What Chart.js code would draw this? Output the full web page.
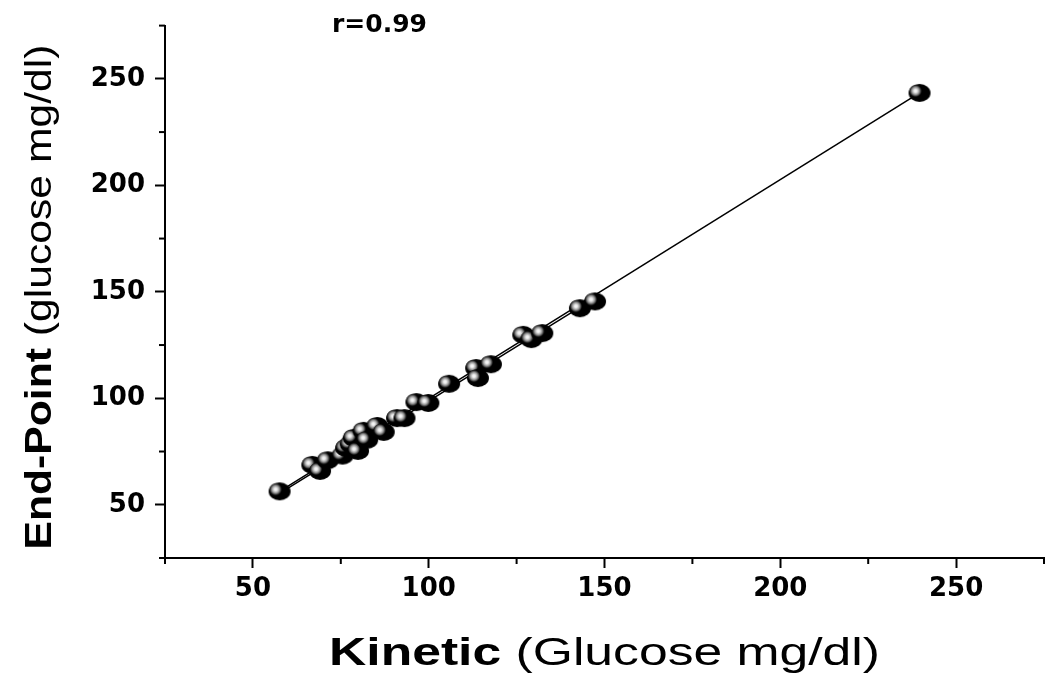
<!DOCTYPE html>
<html lang="en">
<head>
<meta charset="UTF-8">
<title>Kinetic vs End-Point glucose</title>
<script src="https://cdn.jsdelivr.net/npm/chart.js"></script>
<style>
    html, body { margin: 0; padding: 0; background: #fff; overflow: hidden; }
    #wrap { width: 1046px; height: 673px; overflow: hidden; }
</style>
</head>
<body>
<div id="wrap"><canvas id="glucoseChart" width="1056" height="673"></canvas></div>
<script>
    // values (mg/dl)
    const kinetic  = [57.6, 66.9, 69.1, 71.3, 75.5, 76.5, 77.8, 78.7, 79.9, 81.5, 82.5, 85.4, 87.2, 91.0, 93.1, 96.5, 99.9, 105.8, 113.5, 114.0, 117.7, 126.9, 129.2, 132.3, 143.0, 147.3, 239.6];
    const endPoint = [56.3, 68.7, 65.9, 70.9, 73.1, 76.7, 78.5, 81.4, 75.3, 84.7, 80.5, 87.0, 84.2, 90.7, 90.7, 98.2, 97.8, 106.8, 114.2, 109.5, 116.0, 129.8, 127.8, 130.6, 142.3, 145.5, 243.4];

    // fitted lines (two almost coincident ones in the original)
    const fitX  = [57.6, 239.6];
    const fitY  = [56.3, 243.4];
    const fit2X = [60, 147];
    const fit2Y = [57.8, 146.8];

    const labelTicks = [50, 100, 150, 200, 250];
    const xTitle = [['Kinetic', true], [' (Glucose mg/dl)', false]];
    const yTitle = [['End-Point', true], [' (glucose mg/dl)', false]];
    const corrLabel = 'r=0.99';

    const toPoints = (xs, ys) => xs.map((v, i) => ({ x: v, y: ys[i] }));

    // shaded ball marker, a bit wider than tall like the original
    function makeBall() {
        const c = document.createElement('canvas');
        c.width = 24;
        c.height = 20;
        const g = c.getContext('2d');
        g.fillStyle = '#000';
        g.beginPath();
        g.ellipse(12, 10, 11, 9, 0, 0, Math.PI * 2);
        g.fill();
        const grad = g.createRadialGradient(8, 8, 0, 8, 8, 6.5);
        grad.addColorStop(0, '#ffffff');
        grad.addColorStop(0.25, '#e6e6e6');
        grad.addColorStop(0.55, '#9a9a9a');
        grad.addColorStop(0.8, '#3a3a3a');
        grad.addColorStop(1, 'rgba(0,0,0,0)');
        g.fillStyle = grad;
        g.beginPath();
        g.arc(8, 8, 6.5, 0, Math.PI * 2);
        g.fill();
        return c;
    }

    const sans = '"Liberation Sans", Arial, sans-serif';

    // text stretched along its baseline to the given width
    function stretchedText(ctx, parts, size, targetWidth) {
        const fontOf = bold => (bold ? 'bold ' : '') + size + 'px ' + sans;
        let w = 0;
        parts.forEach(p => { ctx.font = fontOf(p[1]); w += ctx.measureText(p[0]).width; });
        ctx.scale(targetWidth / w, 1);
        let cx = -w / 2;
        parts.forEach(p => {
            ctx.font = fontOf(p[1]);
            ctx.fillText(p[0], cx, 0);
            cx += ctx.measureText(p[0]).width;
        });
    }

    const extras = {
        id: 'extras',
        afterDraw(chart) {
            const ctx = chart.ctx;
            const area = chart.chartArea;
            const xs = chart.scales.x, ys = chart.scales.y;
            ctx.save();
            // short minor ticks
            ctx.strokeStyle = '#000';
            ctx.lineWidth = 2;
            xs.ticks.forEach(t => {
                if (labelTicks.includes(t.value)) return;
                const px = xs.getPixelForValue(t.value);
                ctx.beginPath(); ctx.moveTo(px, area.bottom); ctx.lineTo(px, area.bottom + 6); ctx.stroke();
            });
            ys.ticks.forEach(t => {
                if (labelTicks.includes(t.value)) return;
                const py = ys.getPixelForValue(t.value);
                ctx.beginPath(); ctx.moveTo(area.left, py); ctx.lineTo(area.left - 6, py); ctx.stroke();
            });

            ctx.fillStyle = '#000';
            ctx.textAlign = 'left';
            ctx.textBaseline = 'alphabetic';

            ctx.save();
            ctx.translate((area.left + area.right) / 2, 665);
            stretchedText(ctx, xTitle, 39, 551);
            ctx.restore();

            ctx.save();
            ctx.translate(51, 297);
            ctx.rotate(-Math.PI / 2);
            stretchedText(ctx, yTitle, 37, 505);
            ctx.restore();

            ctx.font = 'bold 25px "DejaVu Sans", sans-serif';
            ctx.fillText(corrLabel, 332, 32);
            ctx.restore();
        }
    };

    const tickFont = { family: '"DejaVu Sans", sans-serif', size: 26, weight: 'bold' };
    const majorColor = c => (c.tick && labelTicks.includes(c.tick.value)) ? '#000' : 'rgba(0,0,0,0)';
    const tickLabel = v => labelTicks.includes(v) ? String(v) : '';

    new Chart(document.getElementById('glucoseChart'), {
        type: 'scatter',
        data: {
            datasets: [
                {
                    label: 'samples',
                    data: toPoints(kinetic, endPoint),
                    pointStyle: makeBall(),
                    pointRadius: 11,
                    order: 0
                },
                {
                    label: 'fit',
                    data: toPoints(fitX, fitY),
                    showLine: true,
                    pointRadius: 0,
                    borderColor: '#000',
                    borderWidth: 1.5,
                    order: 1
                },
                {
                    label: 'fit 2',
                    data: toPoints(fit2X, fit2Y),
                    showLine: true,
                    pointRadius: 0,
                    borderColor: '#000',
                    borderWidth: 1.5,
                    order: 2
                }
            ]
        },
        options: {
            responsive: false,
            animation: false,
            devicePixelRatio: 1,
            layout: { padding: { top: 24, right: 3.5, left: 0, bottom: 0 } },
            plugins: { legend: { display: false }, tooltip: { enabled: false } },
            scales: {
                x: {
                    type: 'linear',
                    min: 25,
                    max: 275,
                    border: { color: '#000', width: 2 },
                    grid: { drawOnChartArea: false, tickLength: 10, tickWidth: 2, tickColor: majorColor },
                    ticks: { stepSize: 25, autoSkip: false, maxRotation: 0, padding: 6, color: '#000', font: tickFont, callback: tickLabel },
                    afterFit: s => { s.height = 115; }
                },
                y: {
                    type: 'linear',
                    min: 25,
                    max: 275,
                    border: { color: '#000', width: 2 },
                    grid: { drawOnChartArea: false, tickLength: 10, tickWidth: 2, tickColor: majorColor },
                    ticks: { stepSize: 25, autoSkip: false, padding: 10, color: '#000', font: tickFont, callback: tickLabel },
                    afterFit: s => { s.width = 165; }
                }
            }
        },
        plugins: [extras]
    });
</script>
</body>
</html>
